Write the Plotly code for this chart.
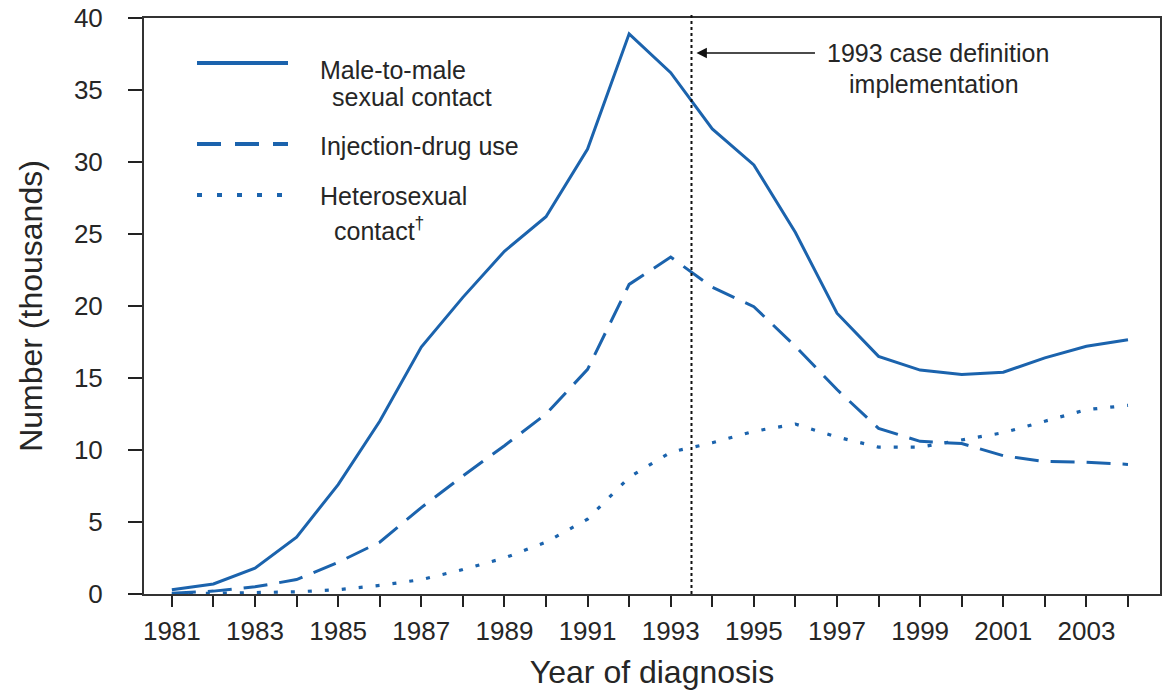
import plotly.graph_objects as go

# ---- data (thousands of cases) ----
years = list(range(1981, 2005))
male_to_male = [0.3, 0.7, 1.8, 3.95, 7.6, 12.0, 17.15, 20.6, 23.8, 26.2, 30.9, 38.9,
                36.2, 32.3, 29.8, 25.1, 19.5, 16.5, 15.55, 15.25, 15.4, 16.4, 17.2, 17.65]
injection_drug = [0.05, 0.2, 0.5, 1.0, 2.2, 3.6, 6.0, 8.2, 10.3, 12.5, 15.6, 21.5,
                  23.4, 21.3, 19.95, 17.2, 14.2, 11.5, 10.6, 10.45, 9.6, 9.2, 9.15, 9.0]
heterosexual = [0.0, 0.05, 0.1, 0.15, 0.3, 0.6, 1.0, 1.7, 2.5, 3.6, 5.2, 8.1,
                9.85, 10.5, 11.3, 11.8, 10.9, 10.2, 10.2, 10.7, 11.2, 12.0, 12.8, 13.1]

x_label_years = [y for y in years if y % 2 == 1]
x_tick_text = [str(y) for y in x_label_years]
y_tick_vals = [0, 5, 10, 15, 20, 25, 30, 35, 40]

case_def_year = 1993.5
series_names = ["Male-to-male", "Injection-drug use", "Heterosexual contact"]

BLUE = "#1b63ad"
TXT = "#262626"
FONT = "Liberation Sans, Arial, Helvetica, sans-serif"

W, H = 1164, 697
# plot area in pixels
VX0, VX1, VY0, VY1 = 144, 1160, 18, 594
L, R, T, B = VX0, W - VX1, VY0, H - VY1
PW, PH = VX1 - VX0, VY1 - VY0


def px_x(p):
    return (p - VX0) / PW


def px_y(p):
    return (VY1 - p) / PH


fig = go.Figure()
styles = [("solid", 3), ("24px,12px", 3), ("4px,13px", 3.2)]
for name, vals, (dash, w) in zip(series_names, [male_to_male, injection_drug, heterosexual], styles):
    fig.add_trace(go.Scatter(x=years, y=vals, mode="lines", name=name,
                             line=dict(color=BLUE, width=w, dash=dash),
                             showlegend=False, hoverinfo="x+y"))

shapes = []
# 1993 case definition vertical dotted line
shapes.append(dict(type="line", xref="x", yref="paper", x0=case_def_year, x1=case_def_year,
                   y0=0, y1=px_y(13), line=dict(color="#111111", width=2, dash="3px,3px"),
                   layer="above"))
# manual legend samples
leg_lines = [(63, "solid"), (144, "24px,14px"), (195, "5px,15px")]
for yy, dash in leg_lines:
    shapes.append(dict(type="line", xref="paper", yref="paper", x0=px_x(197), x1=px_x(288),
                       y0=px_y(yy), y1=px_y(yy), line=dict(color=BLUE, width=4, dash=dash)))

annotations = []
leg_texts = [("Male-to-male", 318, 70), ("sexual contact", 330, 97),
             ("Injection-drug use", 318, 146), ("Heterosexual", 318, 196),
             ("contact<sup>†</sup>", 332, 229)]
for txt, xx, yy in leg_texts:
    annotations.append(dict(text=txt, xref="paper", yref="paper", x=px_x(xx), y=px_y(yy),
                            xanchor="left", yanchor="middle", showarrow=False,
                            font=dict(family=FONT, size=25, color=TXT)))

# arrow + first line of the case-definition note
annotations.append(dict(text="1993 case definition", xref="x", yref="paper",
                        x=case_def_year + 0.12, y=px_y(53), showarrow=True,
                        ax=242, ay=0, arrowhead=2, arrowsize=1.3, arrowwidth=1.6,
                        arrowcolor="#111111", borderpad=12,
                        font=dict(family=FONT, size=25, color=TXT)))
annotations.append(dict(text="implementation", xref="paper", yref="paper",
                        x=px_x(934), y=px_y(84), xanchor="center", yanchor="middle",
                        showarrow=False, font=dict(family=FONT, size=25, color=TXT)))

fig.update_layout(
    width=W, height=H,
    margin=dict(l=L, r=R, t=T, b=B, pad=0, autoexpand=False),
    paper_bgcolor="white", plot_bgcolor="white",
    font=dict(family=FONT, color=TXT),
    shapes=shapes, annotations=annotations,
    xaxis=dict(range=[1980.33, 2004.77], tickmode="array", tickvals=x_label_years,
               ticktext=x_tick_text, ticks="outside", ticklen=11, tickwidth=2,
               tickcolor="#222222",
               minor=dict(tickmode="array", tickvals=years, ticks="outside", ticklen=11,
                          tickwidth=2, tickcolor="#222222", showgrid=False),
               showline=True, linecolor="#333333", linewidth=2, automargin=False,
               mirror=True, showgrid=False, zeroline=False,
               tickfont=dict(family=FONT, size=26, color=TXT), ticklabelstandoff=2,
               title=dict(text="Year of diagnosis", font=dict(family=FONT, size=32, color=TXT),
                          standoff=15)),
    yaxis=dict(range=[0, 40], tickmode="array", tickvals=y_tick_vals, ticks="outside",
               ticklen=14, tickwidth=2, tickcolor="#222222", showline=True,
               linecolor="#333333", linewidth=2, mirror=True, showgrid=False,
               zeroline=False, tickfont=dict(family=FONT, size=26, color=TXT),
               ticklabelstandoff=20, automargin=False,
               title=dict(text="Number (thousands)", font=dict(family=FONT, size=32, color=TXT),
                          standoff=22)),
)

fig.write_html("out.html", config={"displayModeBar": False},
               post_script="document.body.style.margin='0';document.body.style.overflow='hidden';")
